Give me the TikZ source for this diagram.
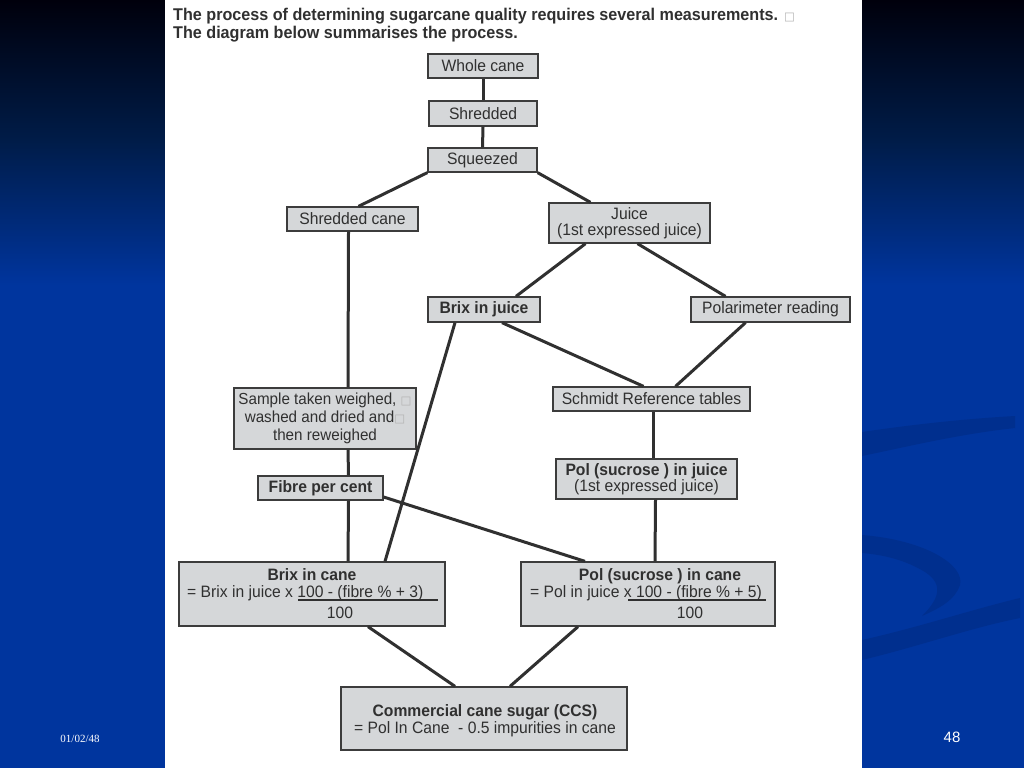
\documentclass[tikz,border=0pt]{standalone}
\usepackage{fontspec}
\setmainfont{Liberation Sans}[FakeStretch=0.95]
\newfontfamily\djv{DejaVu Sans}
\newfontfamily\tms{Liberation Serif}
\newfontfamily\plainsans{Liberation Sans}
\usetikzlibrary{calc}
\definecolor{bgblue}{HTML}{00359E}
\definecolor{bgmid}{HTML}{001C48}
\definecolor{bgtop}{HTML}{00000C}
\definecolor{swoosh}{HTML}{002F8E}
\definecolor{boxfill}{HTML}{D5D7D9}
\definecolor{boxline}{HTML}{3C3C3C}
\definecolor{txt}{HTML}{303030}
\newcommand{\tofu}{{\djv\fontsize{11.5}{12}\selectfont\color{gray!60}□}}
\begin{document}
\begin{tikzpicture}[x=1pt,y=-1pt,
  box/.style={draw=boxline,line width=1.3pt,fill=boxfill,inner sep=0pt,text=txt,
    font=\fontsize{16.5}{18}\selectfont,align=center},
  conn/.style={draw=txt,line width=3pt},
  lbl/.style={inner sep=0pt,text=txt,font=\fontsize{16.5}{18}\selectfont}]
\useasboundingbox (0,0) rectangle (1024,768);
% background
\shade[top color=bgtop,bottom color=bgmid] (0,0) rectangle (1024,140);
\shade[top color=bgmid,bottom color=bgblue] (0,139.5) rectangle (1024,285);
\fill[bgblue] (0,284.5) rectangle (1024,768);
\fill[swoosh] (862,432) .. controls (930,422) and (980,418) .. (1015,416) -- (1015,428) .. controls (960,434) and (910,446) .. (862,456) -- cycle;
\fill[swoosh] (862,535) .. controls (925,540) and (965,565) .. (960,585) .. controls (955,600) and (940,608) .. (922,616) .. controls (938,600) and (945,585) .. (925,572) .. controls (905,560) and (885,555) .. (862,553) -- cycle;
\fill[swoosh] (862,640) .. controls (920,627) and (970,610) .. (1020,598) -- (1020,618) .. controls (970,628) and (920,646) .. (862,660) -- cycle;
% panel
\fill[white] (165,0) rectangle (862,768);
% title
\node[anchor=base west,inner sep=0pt,text=txt,font=\bfseries\fontsize{17}{18}\selectfont] (title1) at (173,21) {The process of determining sugarcane quality requires several measurements. \tofu};
\node[anchor=base west,inner sep=0pt,text=txt,font=\bfseries\fontsize{17}{18}\selectfont] (title2) at (173,38) {The diagram below summarises the process.};
% boxes
\node[box,minimum width=110pt,minimum height=24pt] (wc) at (483,66) {Whole cane};
\node[box,minimum width=108pt,minimum height=25pt] (sh) at (483,113.5) {Shredded};
\node[box,minimum width=109pt,minimum height=24pt] (sq) at (482.5,160) {Squeezed};
\node[box,minimum width=131pt,minimum height=24pt] (sc) at (352.5,219) {Shredded cane};
\node[box,minimum width=161pt,minimum height=40pt,font=\fontsize{16.5}{16}\selectfont] (ju) at (629.5,223) {Juice\\(1st expressed juice)};
\node[box,minimum width=112pt,minimum height=25pt,font=\bfseries\fontsize{16.5}{18}\selectfont] (bij) at (484,309.5) {Brix in juice};
\node[box,minimum width=159pt,minimum height=25pt] (pol) at (770.5,309.5) {Polarimeter reading};
\node[box,minimum width=182pt,minimum height=61pt,font=\fontsize{16}{18}\selectfont] (sam) at (325,418.5) {Sample taken weighed, \tofu\\washed and dried and\tofu\\then reweighed};
\node[box,minimum width=197pt,minimum height=24pt] (sch) at (651.5,399) {Schmidt Reference tables};
\node[box,minimum width=125pt,minimum height=24pt,font=\bfseries\fontsize{16.5}{18}\selectfont] (fp) at (320.5,488) {Fibre per cent};
\node[box,minimum width=181pt,minimum height=40pt,font=\fontsize{16.5}{16}\selectfont] (pij) at (646.5,479) {\textbf{Pol (sucrose ) in juice}\\(1st expressed juice)};
\node[box,minimum width=266pt,minimum height=64pt] (bc) at (312,594) {};
\node[box,minimum width=254pt,minimum height=64pt] (pc) at (648,594) {};
\node[box,minimum width=286pt,minimum height=63pt] (ccs) at (484,718.5) {};
% texts of formula boxes
\node[lbl,anchor=base,font=\bfseries\fontsize{16.5}{18}\selectfont] (bct) at (312,580) {Brix in cane};
\node[lbl,anchor=base west] (bcf) at (187,597) {= Brix in juice x 100 - (fibre \% + 3)};
\coordinate (bcl1) at (298,600);
\coordinate (bcl2) at (438,600);
\draw[txt,line width=1.2pt] (bcl1) -- (bcl2);
\node[lbl,anchor=base] (bcd) at (340,618) {100};
\node[lbl,anchor=base,font=\bfseries\fontsize{16.5}{18}\selectfont] (pct) at (660,580) {Pol (sucrose ) in cane};
\node[lbl,anchor=base west] (pcf) at (530,597) {= Pol in juice x 100 - (fibre \% + 5)};
\coordinate (pcl1) at (628,600);
\coordinate (pcl2) at (766,600);
\draw[txt,line width=1.2pt] (pcl1) -- (pcl2);
\node[lbl,anchor=base] (pcd) at (690,618) {100};
\node[lbl,anchor=base,font=\bfseries\fontsize{16.5}{18}\selectfont] (ccst) at (485,716) {Commercial cane sugar (CCS)};
\node[lbl,anchor=base] (ccsf) at (485,733) {= Pol In Cane\ \ - 0.5 impurities in cane};
% connectors
\draw[conn] (wc.south) -- (sh.north);
\draw[conn] (sh.south) -- (sq.north);
\draw[conn] (sq.south west) -- ([xshift=6pt]sc.north);
\draw[conn] (sq.south east) -- ([xshift=-39pt]ju.north);
\draw[conn] ([xshift=-44pt]ju.south) -- ([xshift=32pt]bij.north);
\draw[conn] ([xshift=8pt]ju.south) -- ([xshift=-45pt]pol.north);
\draw[conn] ([xshift=18pt]bij.south) -- ([xshift=-8pt]sch.north);
\draw[conn] ([xshift=-25pt]pol.south) -- ([xshift=24pt]sch.north);
\draw[conn] ([xshift=-29pt]bij.south) -- ([xshift=73pt]bc.north);
\draw[conn] ([xshift=-4pt]sc.south) -- ([xshift=23pt]sam.north);
\draw[conn] ([xshift=23pt]sam.south) -- ([xshift=28pt]fp.north);
\draw[conn] ([xshift=28pt]fp.south) -- ([xshift=36pt]bc.north);
\draw[conn] ([yshift=-9pt]fp.east) -- ([xshift=-63pt]pc.north);
\draw[conn] ([xshift=2pt]sch.south) -- ([xshift=7pt]pij.north);
\draw[conn] ([xshift=9pt]pij.south) -- ([xshift=7pt]pc.north);
\draw[conn] ([xshift=56pt]bc.south) -- ([xshift=-29pt]ccs.north);
\draw[conn] ([xshift=-70pt]pc.south) -- ([xshift=26pt]ccs.north);
% footer
\node[inner sep=0pt,text=white,font=\tms\fontsize{11}{12}\selectfont] (date) at (80,739) {01/02/48};
\node[inner sep=0pt,text=white,font=\plainsans\fontsize{15}{16}\selectfont] (page) at (952,737) {48};
\end{tikzpicture}
\end{document}
